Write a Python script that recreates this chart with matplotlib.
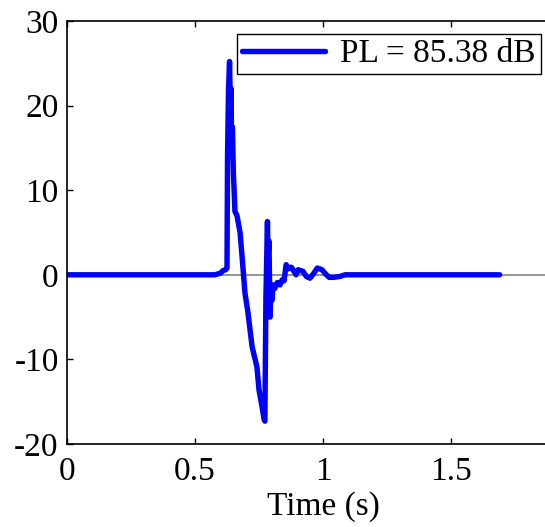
import matplotlib
matplotlib.use("Agg")
import matplotlib.pyplot as plt

# Data
time_s = [0.0, 0.578, 0.600, 0.609, 0.620, 0.625, 0.627, 0.631, 0.635, 0.639, 0.641,
          0.643, 0.646, 0.650, 0.656, 0.664, 0.676, 0.684, 0.695, 0.707, 0.723,
          0.742, 0.750, 0.762, 0.770, 0.773, 0.777, 0.781, 0.783, 0.785, 0.789,
          0.793, 0.797, 0.801, 0.805, 0.812, 0.822, 0.832, 0.840, 0.848, 0.856, 0.866,
          0.876, 0.883, 0.895, 0.903, 0.912, 0.922, 0.935, 0.949, 0.962, 0.978, 0.996,
          1.010, 1.024, 1.040, 1.066, 1.086, 1.69]
signal = [0.0, 0.0, 0.2, 0.5, 0.6, 0.8, 13.8, 22.0, 25.2, 18.0, 22.0,
          14.0, 17.5, 12.0, 7.5, 7.0, 5.0, 2.1, -2.1, -4.5, -8.5,
          -10.9, -13.6, -15.6, -17.1, -17.3, -2.6, 3.3, 6.3, 2.0, 4.0,
          -5.0, -1.4, -3.0, -1.2, -1.6, -0.9, -1.2, -0.6, -0.7, 1.2, 0.7,
          0.9, 0.6, 0.0, 0.6, 0.5, 0.4, -0.2, -0.4, 0.1, 0.8, 0.6,
          0.1, -0.3, -0.3, -0.2, 0.0, 0.0]
legend_label = "PL = 85.38 dB"
x_ticks = [0, 0.5, 1, 1.5]
x_tick_labels = ["0", "0.5", "1", "1.5"]
y_ticks = [-20, -10, 0, 10, 20, 30]
y_tick_labels = ["-20", "-10", "0", "10", "20", "30"]
x_label = "Time (s)"

plt.rcParams['font.family'] = ['Liberation Serif', 'DejaVu Serif']

W, H = 545, 527
fig = plt.figure(figsize=(W / 100, H / 100), dpi=100)
left_px, right_px, top_px, bottom_px = 67, 579, 21, 444
ax = fig.add_axes([left_px / W, 1 - bottom_px / H,
                   (right_px - left_px) / W, (bottom_px - top_px) / H])

ax.axhline(0, color='#8c8c8c', lw=1.3, zorder=1)
ax.plot(time_s, signal, color='#0000ff', lw=3.9, solid_joinstyle='round',
        solid_capstyle='round', label=legend_label, zorder=2)

ax.set_xlim(0, 2)
ax.set_ylim(-20, 30)
ax.set_xticks(x_ticks)
ax.set_xticklabels(x_tick_labels)
ax.set_yticks(y_ticks)
ax.set_yticklabels(y_tick_labels)
ax.tick_params(direction='in', length=4, width=1, top=True, right=True,
               labelsize=24)
ax.tick_params(axis='x', pad=9)
ax.tick_params(axis='y', pad=6)
ax.set_xlabel(x_label, fontsize=24, labelpad=3)
for s in ax.spines.values():
    s.set_linewidth(1.2)

leg = ax.legend(loc='upper right', bbox_to_anchor=(541 / W, 1 - 34 / H),
                bbox_transform=fig.transFigure, borderaxespad=0,
                fontsize=24, fancybox=False, framealpha=1, edgecolor='black',
                handlelength=2.5, handletextpad=0.45, borderpad=0.15)
leg.get_frame().set_linewidth(1.0)

fig.savefig("out.png", dpi=100)
